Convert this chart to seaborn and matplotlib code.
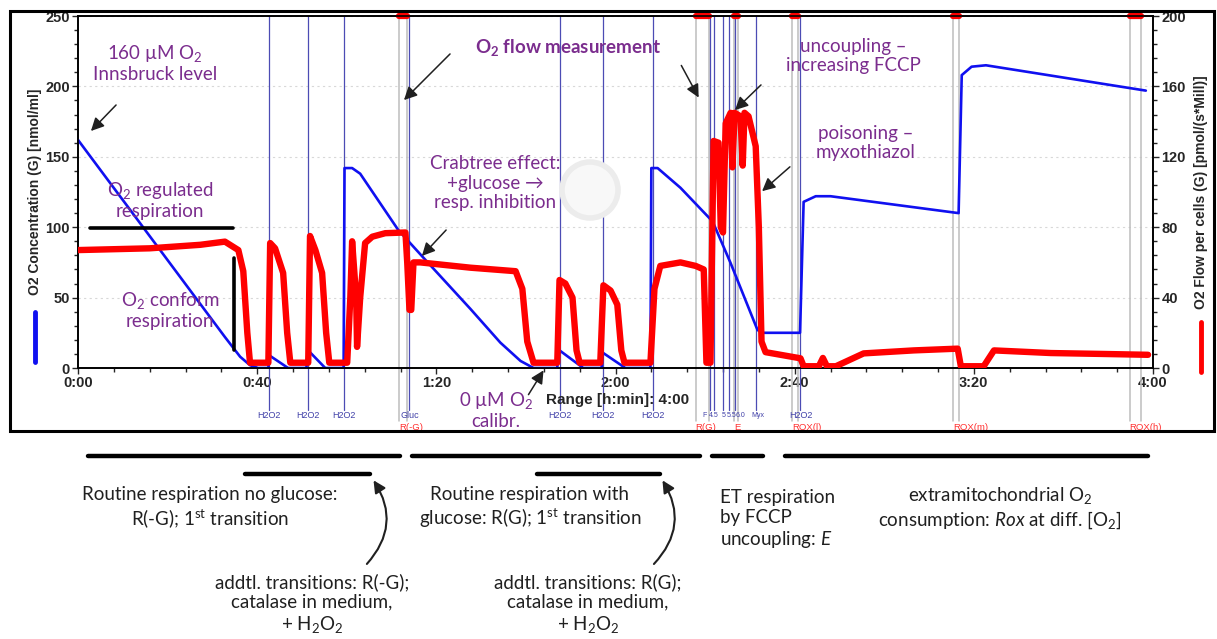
import matplotlib
matplotlib.use("Agg")
import numpy as np
import pandas as pd
import matplotlib.pyplot as plt
import matplotlib.transforms as mtransforms
from matplotlib.ticker import MultipleLocator, FuncFormatter
from matplotlib.patches import Rectangle, Circle
import seaborn as sns

# O2 concentration trace (left axis), time in minutes
conc_time = [0, 32.8, 36.2, 38.4, 40.2, 42.5, 42.7, 46.9, 51.0, 51.3, 55.2, 59.3, 59.5, 61.2,
             63.0, 71.5, 77.5, 87.6, 94.3, 98.8, 101.7, 107.0, 107.3, 112.8, 116.9, 117.1, 122.2,
             127.8, 128.0, 129.4, 134.5, 141.7, 145.7, 151.7, 152.8, 161.2, 162.0, 164.7, 168.0,
             196.6, 197.3, 199.5, 202.7, 238.4]
conc_value = [162, 22, 8, 2, 0, 0, 9, 0, 0, 12.8, 0, 0, 142, 142,
              138, 98, 77, 42, 18, 5, 0, 0, 13, 0, 0, 11, 0,
              0, 142, 142, 128, 104, 74.5, 27, 25, 25, 118, 122, 122,
              110, 208, 214, 215, 197]

# O2 flow per cells trace (right axis)
flow_time = [0, 16, 27.3, 32.8, 35.8, 36.9, 37.8, 38.4, 42.5, 42.9, 44.0, 45.8, 46.7, 47.4,
             51.4, 51.8, 53.0, 54.5, 55.4, 56.1, 60.1, 60.8, 61.2, 62.1, 62.3, 63.0, 64.1, 65.7,
             68.6, 73.1, 73.5, 74.0, 74.4, 74.9, 76.4, 87.6, 97.7, 99.2, 100.3, 101.7, 107.0,
             107.5, 108.8, 110.4, 111.3, 112.0, 116.6, 117.3, 118.9, 120.4, 121.3, 122.0, 127.8,
             128.7, 130.0, 134.5, 137.9, 139.7, 140.3, 141.2, 141.9, 143.0, 143.5, 144.0, 144.6,
             145.7, 146.1, 146.6, 147.9, 148.4, 148.8, 149.7, 151.3, 152.0, 152.6, 153.5, 161.3,
             162.0, 165.4, 166.3, 167.2, 169.2, 175.4, 186.6, 196.4, 197.1, 202.2, 204.5, 217.2,
             228.4, 238.9]
flow_value = [67, 68, 70, 71.8, 67, 55, 20, 3, 3, 71, 68, 54, 20, 3,
              3, 75, 67, 54, 20, 3, 3, 40, 72, 40, 12, 40, 71, 74.6,
              76.6, 77, 60, 33, 33, 60, 60, 57, 55, 45, 15, 3, 3,
              50, 48, 40, 10, 3, 3, 47, 44, 36, 10, 3, 3,
              45, 58, 60, 58, 56, 3, 3, 129, 128, 80, 77, 139,
              145, 114, 145, 143, 115, 145, 143, 126, 80, 15, 9, 5.5,
              1, 1, 5.7, 1, 1, 8.3, 10, 11, 1, 1, 10, 8.5,
              8, 7.5]

# injection events (blue) and marks (grey pairs, red labels)
event_time = [42.7, 51.4, 59.4, 74.0, 107.7, 117.1, 128.3, 141.0, 142.1, 143.9, 145.3, 146.6, 151.3, 161.3]
event_label = ["H2O2", "H2O2", "H2O2", "Gluc", "H2O2", "H2O2", "H2O2", "F", "4.5", "5", "5.5", "6.0", "Myx", "H2O2"]
event_label_time = [42.7, 51.4, 59.4, 74.0, 107.7, 117.1, 128.3, 139.9, 142.0, 144.1, 145.9, 148.0, 151.8, 161.3]
mark_start = [71.7, 137.9, 146.4, 159.5, 195.3, 234.8]
mark_end = [73.5, 140.8, 147.3, 160.7, 196.6, 237.3]
mark_label = ["R(-G)", "R(G)", "E", "ROX(l)", "ROX(m)", "ROX(h)"]

W, H = 1217, 639
PURPLE = "#7B2D8E"


def px(x, y):
    return x / W, 1 - y / H


sns.set_style("white")
plt.rcParams["font.family"] = ["Lato", "DejaVu Sans"]
plt.rcParams["mathtext.fontset"] = "custom"
plt.rcParams["mathtext.rm"] = "Lato"
plt.rcParams["mathtext.it"] = "Lato:italic"
plt.rcParams["mathtext.bf"] = "Lato:bold"

fig = plt.figure(figsize=(W / 100, H / 100), dpi=100)
ax = fig.add_axes([78 / W, (H - 368) / H, 1075 / W, 352 / H])
ax2 = ax.twinx()

conc = pd.DataFrame({"time": conc_time, "O2": conc_value})
flow = pd.DataFrame({"time": flow_time, "flux": flow_value})

sns.lineplot(data=conc, x="time", y="O2", ax=ax, color="#1010F0", lw=1.9, zorder=4, sort=False)
sns.lineplot(data=flow, x="time", y="flux", ax=ax2, color="#FF0000", lw=4.6, zorder=5, sort=False,
             solid_joinstyle="round")

ax.set_xlim(0, 240)
ax.set_ylim(0, 250)
ax2.set_ylim(0, 200)

tick_font = dict(family="Liberation Sans", weight="bold", size=10.5)
ax.xaxis.set_major_locator(MultipleLocator(40))
ax.xaxis.set_minor_locator(MultipleLocator(8))
ax.xaxis.set_major_formatter(FuncFormatter(lambda m, p: f"{int(m // 60)}:{int(m % 60):02d}"))
ax.yaxis.set_major_locator(MultipleLocator(50))
ax.yaxis.set_minor_locator(MultipleLocator(10))
ax2.yaxis.set_major_locator(MultipleLocator(40))
ax2.yaxis.set_minor_locator(MultipleLocator(8))
for a in (ax, ax2):
    a.tick_params(which="major", direction="out", length=4, width=1, pad=2)
    a.tick_params(which="minor", direction="out", length=3, width=1)
    for lab in a.get_xticklabels() + a.get_yticklabels():
        lab.set_fontproperties(tick_font)
    for s in a.spines.values():
        s.set_color("black")
        s.set_linewidth(1.2)
ax.tick_params(axis="x", which="both", bottom=True)
ax.tick_params(axis="y", which="both", left=True)
ax2.tick_params(axis="y", which="both", right=True)

ax.grid(axis="y", color="#D8D8D8", ls=(0, (2, 3)), lw=0.8)
ax.set_axisbelow(True)
ax.set_xlabel("")
ax.set_ylabel("")
ax2.set_ylabel("")

lab_font = dict(family="Liberation Sans", weight="bold", size=10)
fig.text(*px(35, 192), "O2 Concentration (G) [nmol/ml]", rotation=90, ha="center", va="center", **lab_font)
fig.text(*px(1201, 192), "O2 Flow per cells (G) [pmol/(s*Mill)]", rotation=90, ha="center", va="center", **lab_font)
fig.add_artist(plt.Line2D([35 / W] * 2, [1 - 312 / H, 1 - 362 / H], color="#1010F0", lw=3.5))
fig.add_artist(plt.Line2D([1201 / W] * 2, [1 - 322 / H, 1 - 372 / H], color="#FF0000", lw=3.5))

# event lines below / through the axes
trans = mtransforms.blended_transform_factory(ax.transData, ax.transAxes)
for t, tl, lab in zip(event_time, event_label_time, event_label):
    ax.plot([t, t], [1, -0.12], transform=trans, color="#4C4CB4", lw=0.9, clip_on=False, zorder=2)
    ax.text(tl, -0.135, lab, transform=trans, ha="center", va="center", color="#4040A8",
            fontsize=6.5 if len(lab) > 3 else 5.0, family="Liberation Sans")
for t0, t1, lab in zip(mark_start, mark_end, mark_label):
    for t in (t0, t1):
        ax.plot([t, t], [1, -0.15], transform=trans, color="#BDBDBD", lw=1.1, clip_on=False, zorder=1)
    ax.plot([t0, t1], [1, 1], transform=trans, color="#FF0000", lw=4.5, clip_on=False,
            solid_capstyle="round", zorder=6)
    ax.text(t0, -0.168, lab, transform=trans, ha="left", va="center", color="#FF3030",
            fontsize=6.8, family="Liberation Sans")

fig.text(*px(618, 400), "Range [h:min]: 4:00", ha="center", va="center",
         family="Liberation Sans", weight="bold", size=11)

# watermark
fig.add_artist(Circle((590, H - 190), 28, transform=mtransforms.IdentityTransform(),
                      facecolor="#F8F8F8", edgecolor="#ECECEC", lw=4, zorder=0.5))

# outer frame
fig.add_artist(Rectangle(px(10, 431), 1204 / W, 420 / H, fill=False, edgecolor="black", lw=2.2))

# black annotation bars in the chart
fig.add_artist(plt.Line2D([90 / W, 233 / W], [1 - 228 / H] * 2, color="black", lw=2.6))
fig.add_artist(plt.Line2D([234 / W] * 2, [1 - 258 / H, 1 - 350 / H], color="black", lw=2.6))

txt = dict(color=PURPLE, fontsize=13.5, ha="center", va="center", linespacing=1.2)
fig.text(*px(155, 63), "160 µM O$_2$\nInnsbruck level", **txt)
fig.text(*px(160, 200), "O$_2$ regulated\nrespiration", **txt)
fig.text(*px(170, 310), "O$_2$ conform\nrespiration", **txt)
fig.text(*px(568, 47), r"O$_\mathbf{2}$ flow measurement", weight="bold", **txt)
fig.text(*px(495, 183), "Crabtree effect:\n+glucose →\nresp. inhibition", **txt)
fig.text(*px(496, 410), "0 µM O$_2$\ncalibr.", **txt)
fig.text(*px(853, 56), "uncoupling –\nincreasing FCCP", **txt)
fig.text(*px(866, 143), "poisoning –\nmyxothiazol", **txt)

arrows = [((118, 103), (89, 133)), ((452, 52), (402, 102)), ((680, 63), (700, 100)),
          ((763, 83), (733, 112)), ((792, 165), (760, 193)), ((448, 228), (420, 258)),
          ((527, 397), (545, 368))]
for (x0, y0), (x1, y1) in arrows:
    fig.add_artist(matplotlib.patches.FancyArrowPatch(px(x0, y0), px(x1, y1), transform=fig.transFigure,
                   arrowstyle="-|>,head_length=0.6,head_width=0.3", mutation_scale=13, color="#202020", lw=1.1))

# bottom section: phase bars and descriptions
for x0, x1, y in [(88, 400, 456), (412, 700, 456), (712, 763, 456), (785, 1148, 456),
                  (245, 370, 474), (537, 660, 474)]:
    fig.add_artist(plt.Line2D([x0 / W, x1 / W], [1 - y / H] * 2, color="black", lw=3.2))

btxt = dict(color="#202020", fontsize=13.5, va="center", linespacing=1.2)
fig.text(*px(210, 508), "Routine respiration no glucose:\nR(-G); 1$^{\\rm st}$ transition", ha="center", **btxt)
fig.text(*px(312, 604), "addtl. transitions: R(-G);\ncatalase in medium,\n+ H$_2$O$_2$", ha="center", **btxt)
fig.text(*px(530, 508), "Routine respiration with\nglucose: R(G); 1$^{\\rm st}$ transition", ha="center", **btxt)
fig.text(*px(588, 604), "addtl. transitions: R(G);\ncatalase in medium,\n+ H$_2$O$_2$", ha="center", **btxt)
fig.text(*px(720, 520), "ET respiration\nby FCCP\nuncoupling: $E$", ha="left", **btxt)
fig.text(*px(1000, 508), "extramitochondrial O$_2$\nconsumption: $Rox$ at diff. [O$_2$]", ha="center", **btxt)

for x0, y0, x1, y1 in [(365, 566, 372, 478), (652, 566, 661, 478)]:
    fig.add_artist(matplotlib.patches.FancyArrowPatch(px(x0, y0), px(x1, y1), transform=fig.transFigure,
                   connectionstyle="arc3,rad=0.4",
                   arrowstyle="-|>,head_length=0.6,head_width=0.3", mutation_scale=12, color="#202020", lw=1.5))

fig.savefig("out.png", dpi=100)
